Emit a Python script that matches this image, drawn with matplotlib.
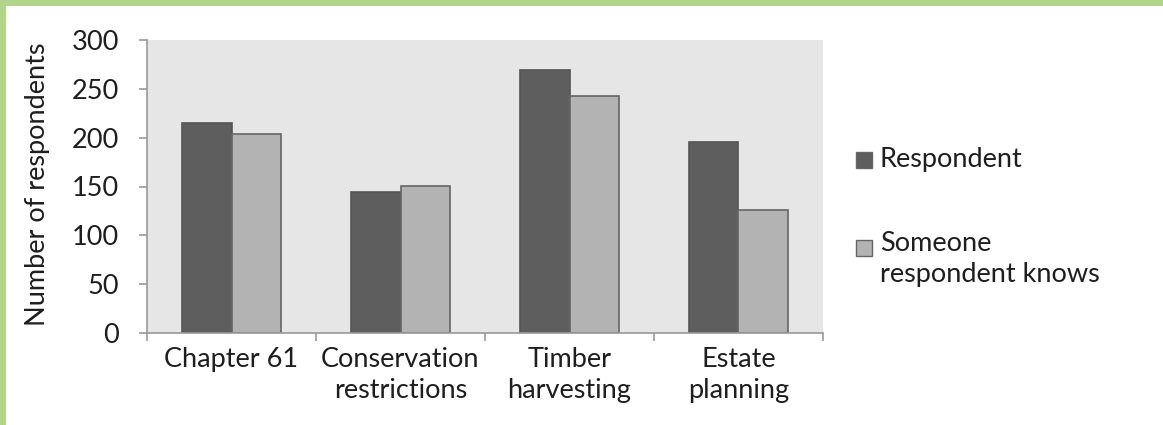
import matplotlib.pyplot as plt
import numpy as np
from matplotlib.patches import Rectangle

# data
categories = ["Chapter 61", "Conservation\nrestrictions", "Timber\nharvesting", "Estate\nplanning"]
series_names = ["Respondent", "Someone\nrespondent knows"]
respondent = [215, 144, 269, 196]
someone_knows = [204, 151, 243, 126]
bar_colors = ["#5e5e5e", "#b3b3b3"]

plt.rcParams['font.family'] = ['Lato', 'DejaVu Sans']
txt = "#1e1e1e"
fs = 19.5

fig = plt.figure(figsize=(11.63, 4.25), dpi=100)
fig.patch.set_facecolor("white")
# green frame on top and left
fig.add_artist(Rectangle((0, 1 - 6 / 425), 1, 6 / 425, transform=fig.transFigure, color="#b2d48f", lw=0))
fig.add_artist(Rectangle((0, 0), 6 / 1163, 1, transform=fig.transFigure, color="#b2d48f", lw=0))

ax = fig.add_axes([147 / 1163, 92 / 425, 676 / 1163, 293 / 425])
ax.set_facecolor("#e6e6e6")

x = np.arange(len(categories))
w = 0.29
ax.bar(x - w / 2, respondent, w, color=bar_colors[0], edgecolor="#555555", linewidth=1.2, zorder=2)
ax.bar(x + w / 2, someone_knows, w, color=bar_colors[1], edgecolor="#666666", linewidth=1.2, zorder=2)

ax.set_xlim(-0.5, len(categories) - 0.5)
ax.set_ylim(0, 300)
ax.set_yticks(np.arange(0, 301, 50))
ax.set_xticks(x)
ax.set_xticklabels(categories, fontsize=fs, color=txt, linespacing=1.3)
ax.set_xticks(np.arange(-0.5, len(categories), 1), minor=True)
ax.tick_params(axis="x", which="major", length=0, pad=10)
ax.tick_params(axis="x", which="minor", length=6, width=1.2, color="#999999", direction="out")
ax.tick_params(axis="y", length=6, width=1.2, color="#999999", direction="out", pad=14, labelsize=fs, labelcolor=txt)

for s in ["top", "right"]:
    ax.spines[s].set_visible(False)
for s in ["left", "bottom"]:
    ax.spines[s].set_color("#999999")
    ax.spines[s].set_linewidth(1.2)

fig.text(38 / 1163, 1 - 184 / 425, "Number of respondents", rotation=90,
         ha="center", va="center", fontsize=fs, color=txt)

# legend drawn by hand to match the layout
leg_y = [160, 248]
for name, col, yy in zip(series_names, bar_colors, leg_y):
    fig.add_artist(Rectangle((856 / 1163, 1 - (yy + 8) / 425), 16 / 1163, 16 / 425,
                             transform=fig.transFigure, facecolor=col, edgecolor="#666666", lw=1))
    if "\n" in name:
        fig.text(880 / 1163, 1 - (yy - 17) / 425, name, ha="left", va="top",
                 fontsize=fs, color=txt, linespacing=1.3)
    else:
        fig.text(880 / 1163, 1 - yy / 425, name, ha="left", va="center",
                 fontsize=fs, color=txt)

fig.savefig("out.png", dpi=100)
